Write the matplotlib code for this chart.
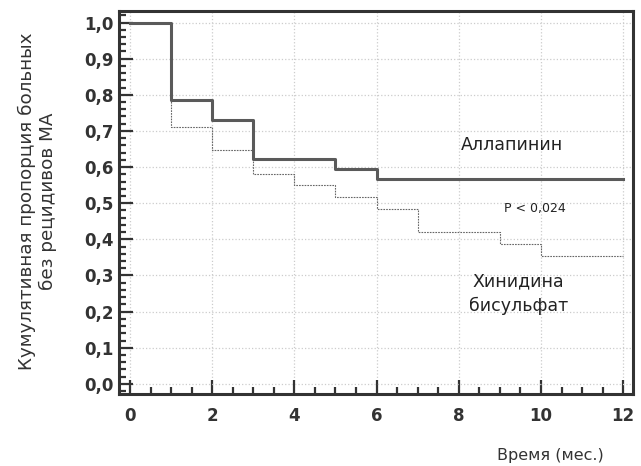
import numpy as np
import matplotlib
matplotlib.use("Agg")
import matplotlib.pyplot as plt
from matplotlib.ticker import MultipleLocator, FuncFormatter

plt.rcParams['font.family'] = ['DejaVu Sans']

# Kaplan-Meier steps
t_allap = [0, 1, 2, 3, 5, 6, 12]
s_allap = [1.0, 0.785, 0.731, 0.621, 0.596, 0.567, 0.567]

t_hinid = [0, 1, 2, 3, 4, 5, 6, 7, 9, 10, 12]
s_hinid = [1.0, 0.710, 0.646, 0.582, 0.551, 0.517, 0.484, 0.421, 0.388, 0.354, 0.354]

fig = plt.figure(figsize=(6.41, 4.66), dpi=100)
ax = fig.add_axes([0.1856, 0.1545, 0.802, 0.822])

ax.step(t_hinid, s_hinid, where='post', color='#666666', lw=0.8,
        linestyle=(0, (1.5, 1)), zorder=3)
ax.step(t_allap, s_allap, where='post', color='#5a5a5a', lw=2.2, zorder=4)

ax.set_xlim(-0.268, 12.24)
ax.set_ylim(-0.028, 1.032)

ax.xaxis.set_major_locator(MultipleLocator(2))
ax.xaxis.set_minor_locator(MultipleLocator(0.5))
ax.yaxis.set_major_locator(MultipleLocator(0.1))
ax.yaxis.set_minor_locator(MultipleLocator(0.02))
ax.yaxis.set_major_formatter(FuncFormatter(lambda v, p: f"{v:.1f}".replace('.', ',')))

ax.tick_params(which='both', direction='in', top=False, right=False,
               color='#333333', width=1.6)
ax.tick_params(which='major', length=10, labelsize=12)
ax.tick_params(which='minor', length=5)
for lab in ax.get_xticklabels() + ax.get_yticklabels():
    lab.set_fontweight('bold')
    lab.set_color('#333333')
ax.tick_params(axis='y', which='major', pad=4)
ax.tick_params(axis='x', which='major', pad=9)

for sp in ax.spines.values():
    sp.set_linewidth(2.2)
    sp.set_color('#333333')

ax.grid(True, which='major', color='#cccccc', linestyle=':', lw=0.9)

ax.text(9.3, 0.66, "Аллапинин", fontsize=12.5, ha='center', va='center', color='#222222')
ax.text(9.85, 0.484, "P < 0,024", fontsize=9, ha='center', va='center', color='#222222')
ax.text(9.45, 0.25, "Хинидина\nбисульфат", fontsize=12.5, ha='center', va='center',
        color='#222222', linespacing=1.5)

fig.text(0.058, 0.569, "Кумулятивная пропорция больных\nбез рецидивов МА", rotation=90,
         ha='center', va='center', fontsize=13.2, color='#333333', linespacing=1.2)
fig.text(0.858, 0.023, "Время (мес.)", ha='center', va='center', fontsize=11.5, color='#333333')

fig.savefig("out.png", dpi=100)
